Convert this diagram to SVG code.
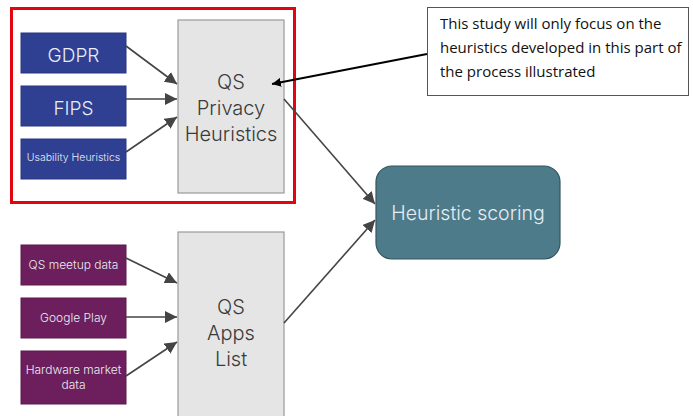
<svg xmlns="http://www.w3.org/2000/svg" width="693" height="416" viewBox="0 0 693 416">
  <style>
    .src-blue { fill: #2f3f92; stroke: #2a3680; stroke-width: 1; }
    .src-purple { fill: #6c1f5c; stroke: #5a1a4c; stroke-width: 1; }
    .hub { fill: #e5e5e6; stroke: #9a9a9a; stroke-width: 1.2; }
    .score { fill: #4e7b8a; stroke: #34545e; stroke-width: 1.2; }
    .lbl { font-family: Inter, "Noto Sans", "Liberation Sans", sans-serif; font-weight: 300; fill: #e8ecf4; text-anchor: middle; }
    .hub-lbl { font-family: Inter, "Noto Sans", "Liberation Sans", sans-serif; font-weight: 300; fill: #3a3a3a; text-anchor: middle; font-size: 20px; }
    .note { font-family: "Open Sans", "Liberation Sans", sans-serif; fill: #111; font-size: 15px; }
    .conn { stroke: #444; stroke-width: 1.6; fill: none; marker-end: url(#head); }
  </style>
  <defs>
    <marker id="head" viewBox="0 0 10 10" refX="10" refY="5" markerWidth="12" markerHeight="12" markerUnits="userSpaceOnUse" orient="auto">
      <path d="M0,0 L10,5 L0,10 Z" fill="#444"/>
    </marker>
    <marker id="head-black" viewBox="0 0 10 10" refX="10" refY="5" markerWidth="9" markerHeight="9" markerUnits="userSpaceOnUse" orient="auto">
      <path d="M0,0 L10,5 L0,10 Z" fill="#000"/>
    </marker>
  </defs>

  <!-- highlight frame around the privacy heuristics stage -->
  <rect id="focus-frame" x="11.5" y="8.5" width="283" height="194" fill="none" stroke="#e2050f" stroke-width="3"/>

  <!-- privacy sources -->
  <g id="gdpr">
    <rect class="src-blue" x="21" y="33" width="105" height="40"/>
    <text class="lbl" x="73.5" y="62" font-size="19">GDPR</text>
  </g>
  <g id="fips">
    <rect class="src-blue" x="21" y="86" width="105" height="40"/>
    <text class="lbl" x="73.5" y="115" font-size="19">FIPS</text>
  </g>
  <g id="usability">
    <rect class="src-blue" x="21" y="139" width="105" height="40"/>
    <text class="lbl" x="73.5" y="161" font-size="10.5">Usability Heuristics</text>
  </g>

  <g id="qs-privacy">
    <rect class="hub" x="178" y="20" width="106" height="173"/>
    <text class="hub-lbl" x="231" y="89">QS</text>
    <text class="hub-lbl" x="231" y="115">Privacy</text>
    <text class="hub-lbl" x="231" y="141">Heuristics</text>
  </g>

  <!-- app sources -->
  <g id="meetup">
    <rect class="src-purple" x="21" y="245" width="105" height="40"/>
    <text class="lbl" x="73.5" y="269" font-size="12">QS meetup data</text>
  </g>
  <g id="google-play">
    <rect class="src-purple" x="21" y="298" width="105" height="40"/>
    <text class="lbl" x="73.5" y="322" font-size="12">Google Play</text>
  </g>
  <g id="hardware">
    <rect class="src-purple" x="21" y="351" width="105" height="53"/>
    <text class="lbl" x="73.5" y="374" font-size="12">Hardware market</text>
    <text class="lbl" x="73.5" y="389" font-size="12">data</text>
  </g>

  <g id="qs-apps">
    <rect class="hub" x="178" y="232" width="106" height="190"/>
    <text class="hub-lbl" x="231" y="314">QS</text>
    <text class="hub-lbl" x="231" y="340">Apps</text>
    <text class="hub-lbl" x="231" y="366">List</text>
  </g>

  <g id="heuristic-scoring">
    <rect class="score" x="376" y="166" width="184" height="93" rx="16" ry="16"/>
    <text class="lbl" x="468" y="220" font-size="19.5">Heuristic scoring</text>
  </g>

  <g id="note">
    <rect x="427.5" y="7.5" width="261" height="88" fill="#fff" stroke="#555" stroke-width="1"/>
    <text class="note" x="440" y="29">This study will only focus on the</text>
    <text class="note" x="440" y="53">heuristics developed in this part of</text>
    <text class="note" x="440" y="77">the process illustrated</text>
  </g>

  <g id="connectors">
    <line class="conn" x1="126" y1="46" x2="177" y2="84"/>
    <line class="conn" x1="126" y1="99" x2="177" y2="99"/>
    <line class="conn" x1="126" y1="152" x2="177" y2="117"/>
    <line class="conn" x1="126" y1="258" x2="177" y2="283"/>
    <line class="conn" x1="126" y1="317" x2="177" y2="317"/>
    <line class="conn" x1="126" y1="376" x2="177" y2="342"/>
    <line class="conn" x1="284" y1="99" x2="375" y2="204"/>
    <line class="conn" x1="284" y1="323" x2="375" y2="220"/>
    <line stroke="#000" stroke-width="2" x1="427" y1="54" x2="272" y2="84" marker-end="url(#head-black)"/>
  </g>
</svg>
